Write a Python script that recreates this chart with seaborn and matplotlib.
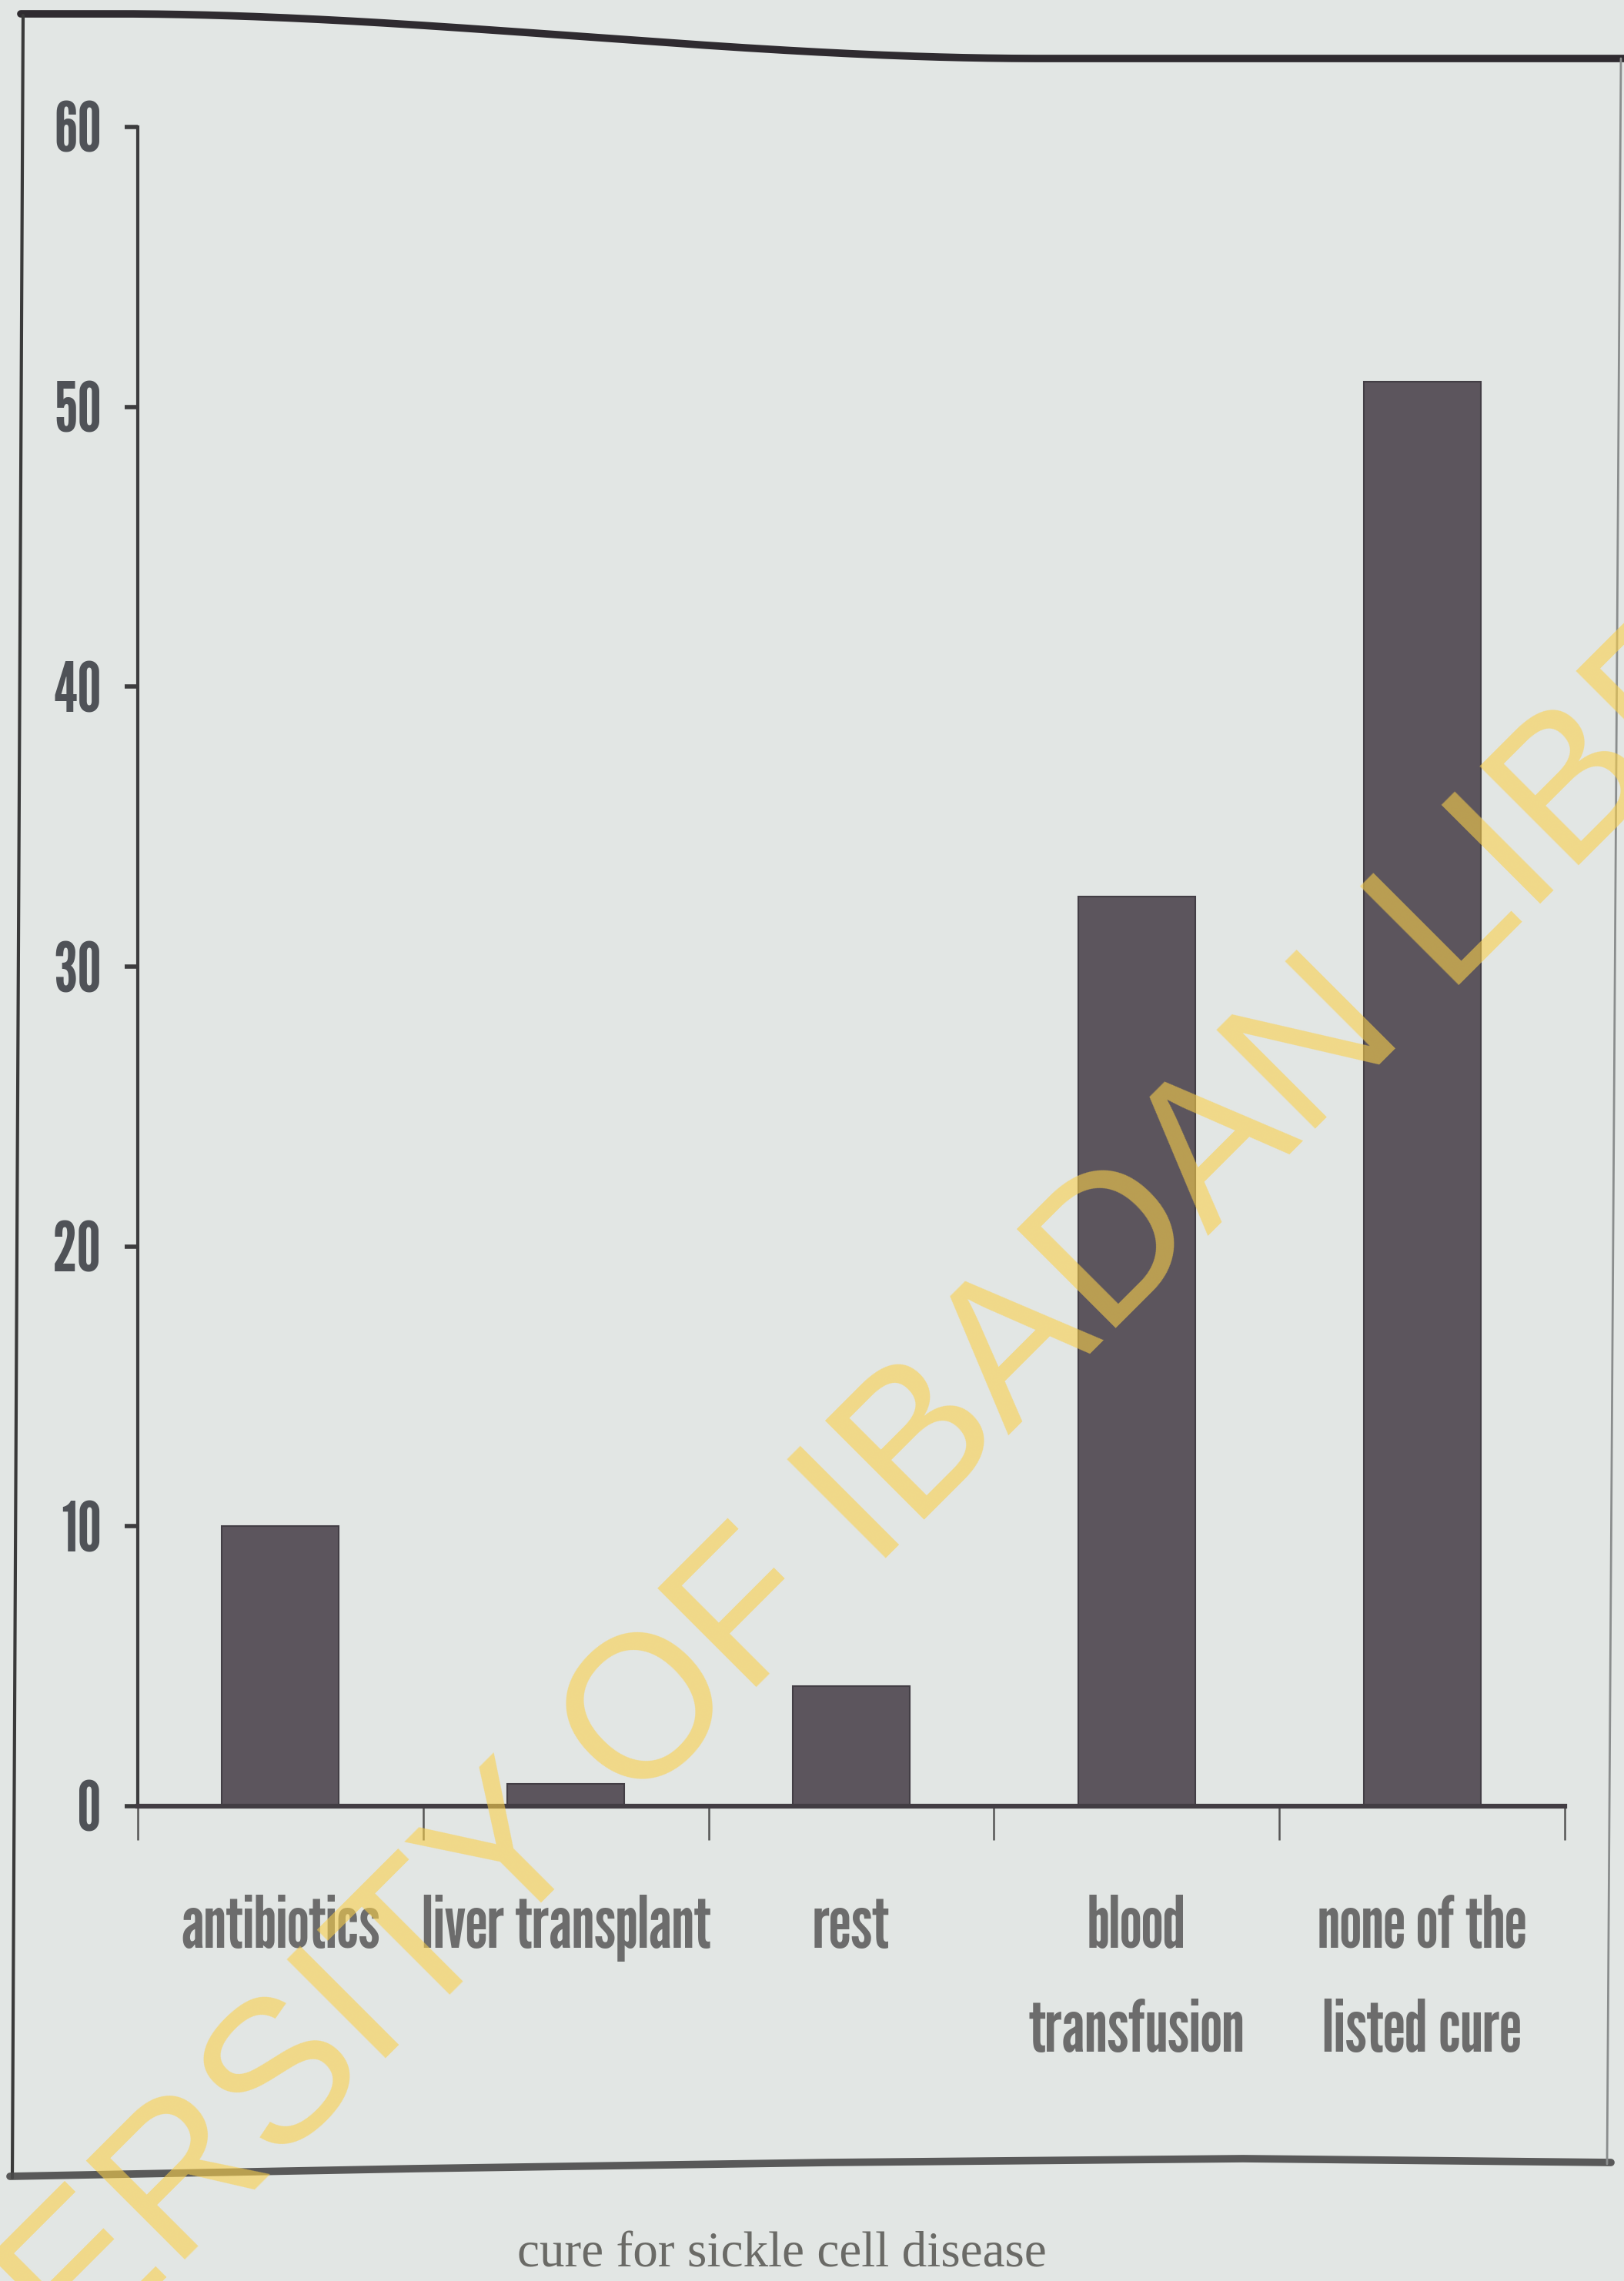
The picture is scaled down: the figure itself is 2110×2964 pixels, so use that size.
import numpy as np
import pandas as pd
import matplotlib
matplotlib.use("Agg")
import matplotlib.pyplot as plt
from matplotlib.lines import Line2D
from matplotlib import font_manager
import seaborn as sns

# survey responses: percentage naming each option as a cure
categories = ["antibiotics", "liver transplant", "rest", "blood\ntransfusion", "none of the\nlisted cure"]
percent = [10.0, 0.8, 4.3, 32.5, 50.9]
y_ticks = [0, 10, 20, 30, 40, 50, 60]
title = "cure for sickle cell disease"
watermark = "UNIVERSITY OF IBADAN LIBRARY"

installed = {f.name for f in font_manager.fontManager.ttflist}


def pick(*names):
    for n in names:
        if n in installed:
            return n
    return "DejaVu Sans"


narrow = pick("League Gothic", "Pathway Gothic One", "Antonio", "Big Shoulders Text")
sans = pick("Liberation Sans", "DejaVu Sans")
serif = pick("Liberation Serif", "DejaVu Serif")

sns.set_theme(style="white")
plt.rcParams["font.family"] = [narrow, "DejaVu Sans"]

paper = "#e2e6e4"
bar_color = "#5c555d"

W, H = 2110, 2964
fig = plt.figure(figsize=(W / 100, H / 100), dpi=100, facecolor=paper)
ax = fig.add_axes([179 / W, (H - 2347) / H, (2033 - 179) / W, (2347 - 165) / H])
ax.set_facecolor(paper)

df = pd.DataFrame({"cure": categories, "percent": percent})
sns.barplot(data=df, x="cure", y="percent", color=bar_color, saturation=1,
            width=0.41, edgecolor="#433e45", linewidth=1.5, ax=ax, zorder=2)

ax.set_xlim(-0.5, len(categories) - 0.5)
ax.set_ylim(0, 60)
ax.set_yticks(y_ticks)
ax.set_yticklabels([str(v) for v in y_ticks], fontsize=60, color="#4f5257")
ax.set_xlabel("")
ax.set_ylabel("")

for s in ("top", "right"):
    ax.spines[s].set_visible(False)
ax.spines["left"].set_color("#3c3c3e")
ax.spines["left"].set_linewidth(3)
ax.spines["bottom"].set_color("#423d43")
ax.spines["bottom"].set_linewidth(4.5)
ax.spines["bottom"].set_zorder(3)

ax.tick_params(axis="y", direction="out", length=12, width=4, color="#3c3c3e", pad=24, left=True)
ax.tick_params(axis="x", which="major", length=0, pad=80, labelsize=60, labelcolor="#6c6c6c")
ax.set_xticks(np.arange(-0.5, len(categories)), minor=True)
ax.tick_params(axis="x", which="minor", direction="out", length=32, width=1.8, color="#555555", bottom=True)

# size the condensed labels to their printed widths, then set spacing and offsets
fig.canvas.draw()
r = fig.canvas.get_renderer()
k = 375 / ax.get_xticklabels()[1].get_window_extent(r).width
ax.tick_params(axis="x", which="major", labelsize=60 * k)
ky = 62 / ax.get_yticklabels()[-1].get_window_extent(r).width
ax.tick_params(axis="y", labelsize=60 * ky)
for lab in ax.get_xticklabels():
    lab.set_verticalalignment("top")
    lab.set_linespacing(1.2)
fig.canvas.draw()
xl = ax.get_xticklabels()
pitch = xl[3].get_window_extent(r).height - xl[0].get_window_extent(r).height
for lab in xl:
    lab.set_linespacing(1.2 * 142 / pitch)
top_now = H - xl[0].get_window_extent(r).y1
ax.tick_params(axis="x", which="major", pad=80 + (2462 - top_now) * 0.72)
right_now = ax.get_yticklabels()[-1].get_window_extent(r).x1
ax.tick_params(axis="y", pad=24 + (right_now - 132) * 0.72)

# scanned page frame
xs = np.linspace(27, 2110, 200)
t = np.clip((xs - 150) / 1200, 0, 1)
top_y = 18 + 58 * (3 * t ** 2 - 2 * t ** 3)
fig.add_artist(Line2D(xs / W, 1 - top_y / H, color="#2f2b30", lw=7, transform=fig.transFigure))
fig.add_artist(Line2D([30 / W, 16 / W], [1 - 20 / H, 1 - 2830 / H], color="#3a3a3a", lw=3,
                      transform=fig.transFigure))
bx = np.array([13, 538, 1077, 1615, 2093])
by = np.array([2828, 2818, 2810, 2805, 2810])
fig.add_artist(Line2D(bx / W, 1 - by / H, color="#4a4a4a", lw=7, alpha=0.9, transform=fig.transFigure))
fig.add_artist(Line2D([2106 / W, 2088 / W], [1 - 76 / H, 1 - 2812 / H], color="#8a8d8d", lw=2,
                      transform=fig.transFigure))

fig.text(1016 / W, 1 - 2945 / H, title, family=serif, fontsize=47, color="#6a6a66",
         ha="center", va="baseline")

fig.text(1165 / W, 1 - 2010 / H, watermark, family=sans, fontsize=190, color="#fad04b",
         alpha=0.6, rotation=45, rotation_mode="anchor", ha="center", va="baseline", zorder=10)

fig.savefig("out.png", dpi=100, facecolor=paper)
